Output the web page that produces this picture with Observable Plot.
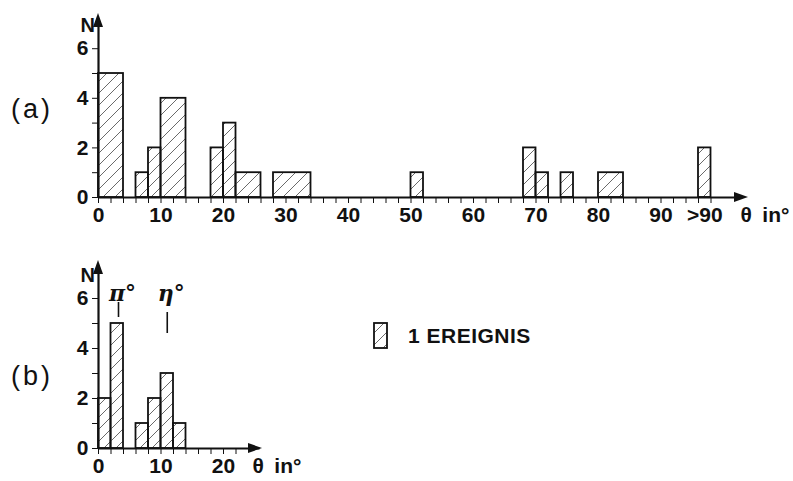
<!DOCTYPE html>
<html>
<head>
<meta charset="utf-8">
<script src="https://cdn.jsdelivr.net/npm/d3@7"></script>
<script src="https://cdn.jsdelivr.net/npm/@observablehq/plot@0.6"></script>
<style>
  html, body { margin: 0; padding: 0; background: #fff; }
  #chart { position: relative; width: 793px; height: 481px; font-family: "Liberation Sans", sans-serif; color: #111; background: #fff; }
  #chart svg.panel { position: absolute; left: 0; z-index: 0; }
  .panel-label { position: absolute; z-index: 1; left: 11px; font-size: 27px; letter-spacing: 3px; line-height: 1; }
  .legend { position: absolute; z-index: 1; left: 373px; top: 322px; display: flex; align-items: center; }
  .legend span { font-size: 21px; font-weight: bold; margin-left: 19px; letter-spacing: 0.5px; }
</style>
</head>
<body>
<svg width="0" height="0" style="position:absolute">
  <defs>
    <pattern id="hatch" patternUnits="userSpaceOnUse" width="12" height="12">
      <path d="M-1,1 L1,-1 M0,12 L12,0 M11,13 L13,11" stroke="#6a6a6a" stroke-width="1"/>
    </pattern>
  </defs>
</svg>
<div id="chart">
  <div class="panel-label" style="top:96px">(a)</div>
  <div class="panel-label" style="top:363px">(b)</div>
  <div class="legend">
    <svg width="16" height="28"><rect x="1" y="1" width="13" height="25" fill="url(#hatch)" stroke="#111" stroke-width="1.8"/></svg>
    <span>1 EREIGNIS</span>
  </div>
</div>
<script>
// (a) opening-angle histogram, all events: bin edges in degrees and counts
const binLoA = [0, 6, 8, 10, 18, 20, 22, 28, 50, 68, 70, 74, 80, 96];
const binHiA = [4, 8, 10, 14, 20, 22, 26, 34, 52, 70, 72, 76, 84, 98];
const countA = [5, 1, 2, 4, 2, 3, 1, 1, 1, 2, 1, 1, 1, 2];
const tickLabelsA = [0, 10, 20, 30, 40, 50, 60, 70, 80, 90];
const overflowLabel = ">90";
const overflowPos = 97;

// (b) selected events
const binLoB = [0, 2, 6, 8, 10, 12];
const binHiB = [2, 4, 8, 10, 12, 14];
const countB = [2, 5, 1, 2, 3, 1];
const tickLabelsB = [0, 10, 20];

// expected opening angles for pi0 and eta decays
const particleNames = ["π°", "η°"];
const particleAngles = [3.2, 11.0];

const yTicks = [0, 1, 2, 3, 4, 5, 6];
const axisTitle = "θ\u2002in°";

const font = {fontSize: "21px", fontWeight: "bold", fontFamily: "Liberation Sans, sans-serif", color: "#111", overflow: "visible"};
const ink = "#111";

function bins(lo, hi, n) {
  return lo.map((d, i) => ({x1: d, x2: hi[i], n: n[i]}));
}

// filled triangular arrowheads at the ends of both axes
function addArrows(svg, xMax, yMax) {
  const sx = svg.scale("x"), sy = svg.scale("y");
  const fx = sx.apply ? (v) => sx.apply(v) : d3.scaleLinear(sx.domain, sx.range);
  const fy = sy.apply ? (v) => sy.apply(v) : d3.scaleLinear(sy.domain, sy.range);
  const s = d3.select(svg);
  const x0 = fx(0), y0 = fy(0), xt = fx(xMax), yt = fy(yMax);
  s.append("path").attr("d", `M${xt},${y0}L${xt - 14},${y0 - 5}L${xt - 14},${y0 + 5}Z`).attr("fill", ink);
  s.append("path").attr("d", `M${x0},${yt}L${x0 - 5},${yt + 14}L${x0 + 5},${yt + 14}Z`).attr("fill", ink);
}

function panel({data, xMax, yMax, height, top, marginTop, marginBottom, marginRight, xTicks, labels, extra, titleDx, nDy}) {
  const svg = Plot.plot({
    width: 793,
    height,
    marginLeft: 98,
    marginRight,
    marginTop,
    marginBottom,
    style: font,
    x: {domain: [0, xMax], ticks: xTicks, tickSize: 6, tickPadding: 4,
        tickFormat: (d) => labels.includes(d) ? String(d) : "", label: null},
    y: {domain: [0, yMax], ticks: yTicks, tickSize: 6, tickPadding: 4,
        tickFormat: (d) => d % 2 === 0 ? String(d) : "", label: null},
    marks: [
      Plot.rectY(data, {x1: "x1", x2: "x2", y: "n", fill: "url(#hatch)", stroke: ink, strokeWidth: 1.8}),
      Plot.ruleY([0], {x1: 0, x2: xMax * 0.985, stroke: ink, strokeWidth: 2.2}),
      Plot.ruleX([0], {y1: 0, y2: yMax * 0.97, stroke: ink, strokeWidth: 2.2}),
      Plot.text(["N"], {frameAnchor: "top-left", dx: -18, dy: nDy, fontSize: 20, fill: ink}),
      Plot.text([axisTitle], {x: xMax, y: 0, textAnchor: "start", lineAnchor: "top", dx: titleDx, dy: 10, fill: ink}),
      ...extra
    ]
  });
  svg.setAttribute("class", "panel");
  svg.style.top = top + "px";
  svg.style.position = "absolute";
  addArrows(svg, xMax, yMax);
  return svg;
}

const chart = document.getElementById("chart");

chart.insertBefore(panel({
  data: bins(binLoA, binHiA, countA),
  xMax: 104, yMax: 7.42, height: 240, top: 0,
  marginTop: 13, marginBottom: 43, marginRight: 45,
  xTicks: d3.range(0, 99, 2), labels: tickLabelsA, titleDx: -8, nDy: 4,
  extra: [
    Plot.text([overflowLabel], {x: overflowPos, y: 0, lineAnchor: "top", dy: 10, fill: ink})
  ]
}), chart.firstChild);

chart.insertBefore(panel({
  data: bins(binLoB, binHiB, countB),
  xMax: 26.24, yMax: 7.52, height: 241, top: 240,
  marginTop: 20, marginBottom: 33, marginRight: 531,
  xTicks: d3.range(0, 23, 2), labels: tickLabelsB, titleDx: -10, nDy: 7,
  extra: [
    Plot.ruleX(particleAngles, {x: (d) => d, y1: (d, i) => [5.24, 4.6][i], y2: (d, i) => [5.84, 5.44][i], stroke: ink, strokeWidth: 1.6}),
    Plot.text(particleAngles, {x: (d) => d, y: 6.2, text: (d, i) => particleNames[i], dx: 4, fontSize: 22, fontStyle: "italic", fontWeight: "bold", fontFamily: "DejaVu Serif, serif", fill: ink})
  ]
}), chart.firstChild);
</script>
</body>
</html>
